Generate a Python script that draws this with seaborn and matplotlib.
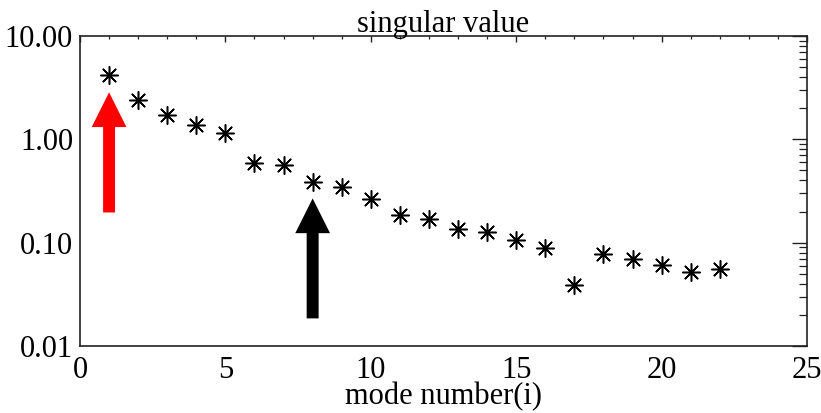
import matplotlib
matplotlib.use("Agg")
import matplotlib.pyplot as plt
import seaborn as sns
import pandas as pd
from matplotlib.ticker import FixedLocator, FixedFormatter, MultipleLocator, LogLocator, NullFormatter

mode_number = list(range(1, 23))
singular_value = [4.17, 2.38, 1.71, 1.37, 1.14, 0.586, 0.56, 0.383, 0.343, 0.262,
                  0.184, 0.171, 0.137, 0.128, 0.106, 0.0887, 0.0386, 0.0782, 0.070,
                  0.0612, 0.0519, 0.0552]
y_ticks = [0.01, 0.1, 1.0, 10.0]
y_tick_labels = ["0.01", "0.10", "1.00", "10.00"]
x_ticks = [0, 5, 10, 15, 20, 25]
arrow_x = [1, 8]
arrow_tail = [0.196, 0.0185]
arrow_tip = [2.85, 0.268]
arrow_color = ["#ff0000", "#000000"]

sns.set_theme(style="white")
plt.rcParams['font.family'] = ['Liberation Serif', 'DejaVu Serif']
plt.rcParams['text.color'] = 'black'
plt.rcParams['axes.labelcolor'] = 'black'

fig = plt.figure(figsize=(8.21, 4.13), dpi=100)
ax = fig.add_axes([80/821, 67/413, 727/821, 310/413])

df = pd.DataFrame({"mode": mode_number, "sv": singular_value})
sns.scatterplot(data=df, x="mode", y="sv", ax=ax, marker=(8, 2, 0), s=160,
                color="black", linewidth=1.1, edgecolor="black", zorder=3)
ax.scatter(df["mode"], df["sv"], s=10, color="black", zorder=4)

for xa, t0, t1, c in zip(arrow_x, arrow_tail, arrow_tip, arrow_color):
    ax.annotate("", xy=(xa, t1), xytext=(xa, t0),
                arrowprops=dict(arrowstyle="simple,head_width=25,head_length=25,tail_width=8.6",
                                mutation_scale=1, color=c, shrinkA=0, shrinkB=0, lw=0))

ax.set_yscale("log")
ax.set_ylim(0.01, 10)
ax.set_xlim(0, 25)
ax.yaxis.set_major_locator(FixedLocator(y_ticks))
ax.yaxis.set_major_formatter(FixedFormatter(y_tick_labels))
ax.yaxis.set_minor_locator(LogLocator(base=10, subs=range(2, 10)))
ax.yaxis.set_minor_formatter(NullFormatter())
ax.xaxis.set_major_locator(FixedLocator(x_ticks))
ax.xaxis.set_minor_locator(MultipleLocator(1))

ax.tick_params(axis="both", which="both", direction="in", top=True, right=True,
               color="#222222", labelsize=22, labelcolor="black")
ax.tick_params(axis="x", which="major", length=4.3, width=1.0, pad=7)
ax.tick_params(axis="x", which="minor", length=2.5, width=0.9)
ax.tick_params(axis="y", which="major", length=11, width=1.0, pad=5)
ax.tick_params(axis="y", which="minor", length=5.8, width=0.9)

for sp in ax.spines.values():
    sp.set_visible(True)
    sp.set_color("#222222")
    sp.set_linewidth(1.2)

ax.set_title("singular value", fontsize=22, pad=3, color="black")
ax.set_xlabel("mode number(i)", fontsize=22, labelpad=-2, color="black")
ax.set_ylabel("")

fig.savefig("out.png", dpi=100, facecolor="white")
